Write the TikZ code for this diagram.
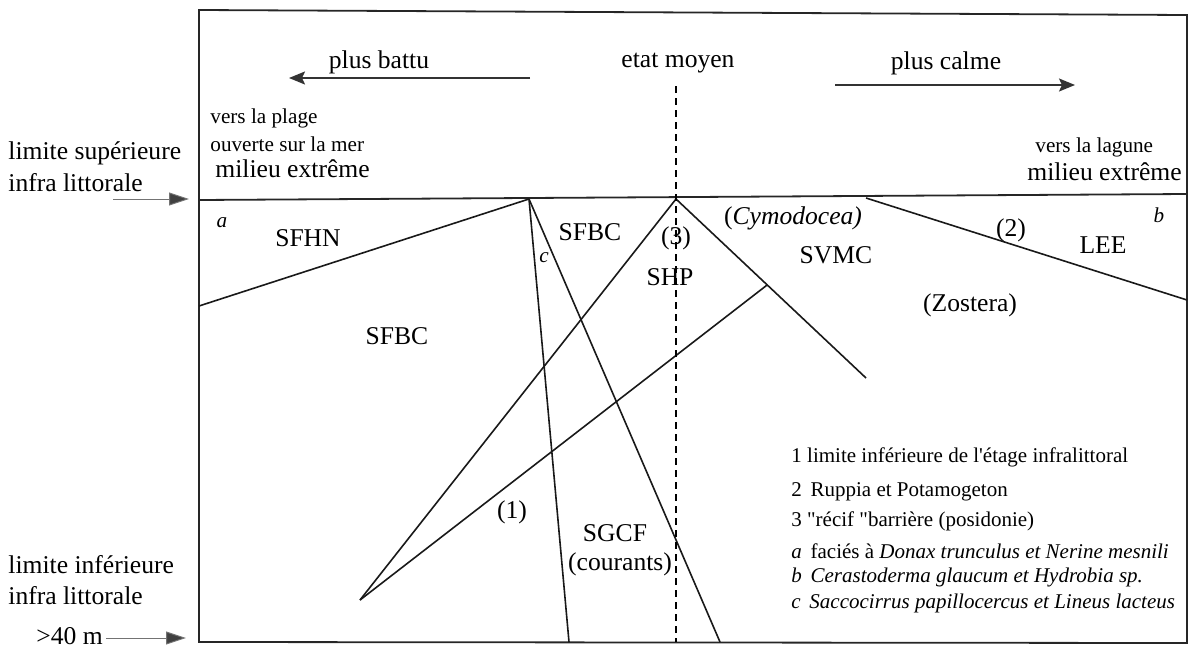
\documentclass[tikz,border=0pt]{standalone}
\usepackage{fontspec}
\setmainfont{Liberation Serif}[Ligatures=TeXOff]
\usetikzlibrary{arrows.meta,calc}
\begin{document}
\begin{tikzpicture}[x=0.5pt,y=-0.5pt,
  frame/.style={line width=0.9pt,black!85},
  zone/.style={line width=0.8pt,black!90},
  big/.style={font=\fontsize{12.8}{14}\selectfont,inner sep=0pt},
  small/.style={font=\fontsize{10.6}{12}\selectfont,inner sep=0pt},
  smallit/.style={font=\fontsize{10.6}{12}\selectfont\itshape,inner sep=0pt},
  legend/.style={font=\fontsize{10.5}{12}\selectfont,inner sep=0pt,anchor=west},
  dirarrow/.style={line width=0.9pt,black!80,-{Stealth[length=8pt,width=6.5pt,inset=1.5pt]}},
  sidearrow/.style={line width=0.5pt,black!55,-{Triangle[length=10pt,width=6.5pt,fill=black!75]}},
  midline/.style={line width=0.7pt,dash pattern=on 3.5pt off 2.5pt}]
\useasboundingbox (0,0) rectangle (1193,648);
% frame
\coordinate (TL) at (199,10);
\coordinate (TR) at (1187,15);
\coordinate (BR) at (1187,643);
\coordinate (BL) at (199,642);
\coordinate (ML) at (199,200);
\coordinate (MR) at (1187,194);
\draw[frame] (TL) -- (TR) -- (BR) -- (BL) -- cycle;
\draw[frame] (ML) -- (MR);
% zone lines
\coordinate (A) at (529,199);
\coordinate (SFl) at (199,306);
\coordinate (Ab1) at (569,642);
\coordinate (Ab2) at (720,642);
\coordinate (B) at (676,199);
\coordinate (P1) at (360,600);
\coordinate (Q) at (866,378);
\coordinate (R) at ($(B)!0.48!(Q)$);
\coordinate (C) at (866,198);
\coordinate (D) at (1187,300);
\draw[zone] (SFl) -- (A);
\draw[zone] (A) -- (Ab1);
\draw[zone] (A) -- (Ab2);
\draw[zone] (P1) -- (B) -- (Q);
\draw[zone] (P1) -- (R);
\draw[zone] (C) -- (D);
\coordinate (Dt) at (676,86);
\coordinate (Db) at (676,642);
\draw[midline] (Dt) -- (Db);
% top labels and arrows
\node[big] (battu) at (379,62) {plus battu};
\node[big] (moyen) at (678,63) {etat moyen};
\node[big] (calme) at (946,63) {plus calme};
\coordinate (ba1) at (530,78);
\coordinate (ba2) at (289,78);
\coordinate (ca1) at (835,85);
\coordinate (ca2) at (1075,85);
\draw[dirarrow] (ba1) -- (ba2);
\draw[dirarrow] (ca1) -- (ca2);
\node[small,anchor=west] (plage) at (210,118) {vers la plage};
\node[small,anchor=west] (ouverte) at (210,144) {ouverte sur la mer};
\node[big,anchor=west] (ext1) at (215,169) {milieu extrême};
\node[small,anchor=west] (lagune) at (1035,147) {vers la lagune};
\node[big,anchor=west] (ext2) at (1027,172) {milieu extrême};
% side labels
\node[big,anchor=west] (ls1) at (8,153) {limite supérieure};
\node[big,anchor=west] (ls2) at (8,183) {infra littorale};
\node[big,anchor=west] (li1) at (8,565) {limite inférieure};
\node[big,anchor=west] (li2) at (8,596) {infra littorale};
\node[big,anchor=west] (m40) at (36,636) {>40 m};
\coordinate (sa1) at (113,199);
\coordinate (sa2) at (189,199);
\coordinate (sb1) at (106,638);
\coordinate (sb2) at (186,638);
\draw[sidearrow] (sa1) -- (sa2);
\draw[sidearrow] (sb1) -- (sb2);
% zone labels
\node[smallit] (la) at (222,223) {a};
\node[big] (sfhn) at (308,238) {SFHN};
\node[smallit] (lc) at (544,258) {c};
\node[big] (sfbc1) at (590,232) {SFBC};
\node[big] (n3) at (676,238) {(3)};
\node[big] (shp) at (670,277) {SHP};
\node[big] (cymo) at (793,218) {(\textit{Cymodocea)}};
\node[big] (svmc) at (836,255) {SVMC};
\node[big] (n2) at (1011,230) {(2)};
\node[big] (lee) at (1103,245) {LEE};
\node[smallit] (lb) at (1159,215) {b};
\node[big] (zost) at (970,305) {(Zostera)};
\node[big] (sfbc2) at (397,336) {SFBC};
\node[big] (n1) at (512,512) {(1)};
\node[big] (sgcf) at (615,533) {SGCF};
\node[big] (cour) at (620,564) {(courants)};
% legend
\node[legend] (lg1) at (791,457) {1 limite inférieure de l'étage infralittoral};
\node[legend] (lg2) at (791,492) {2\, Ruppia et Potamogeton};
\node[legend] (lg3) at (791,521) {3 "récif "barrière (posidonie)};
\node[legend] (lg4) at (791,551) {\textit{a}\, faciés à \textit{Donax trunculus et Nerine mesnili}};
\node[legend] (lg5) at (791,577) {\textit{b\, Cerastoderma glaucum et Hydrobia sp.}};
\node[legend] (lg6) at (791,603) {\textit{c\, Saccocirrus papillocercus et Lineus lacteus}};
\end{tikzpicture}
\end{document}
